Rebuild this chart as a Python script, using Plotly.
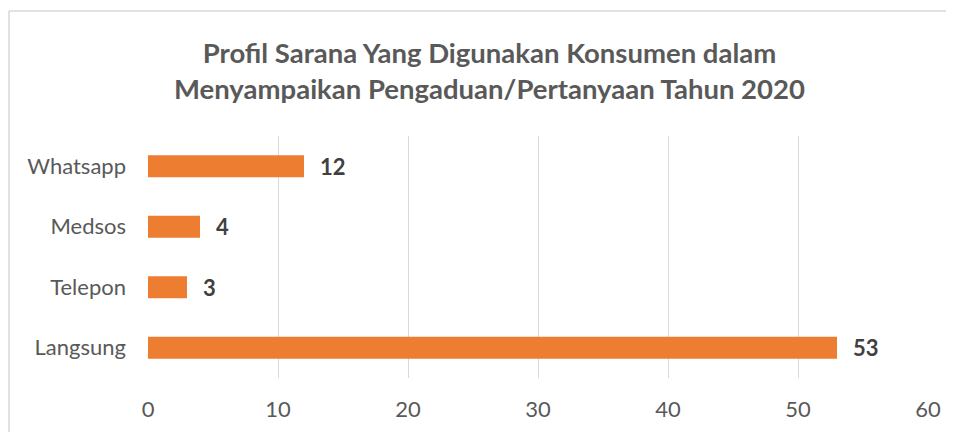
import plotly.graph_objects as go

categories = ["Langsung", "Telepon", "Medsos", "Whatsapp"]
values = [53, 3, 4, 12]
x_ticks = [0, 10, 20, 30, 40, 50, 60]

title_lines = ["Profil Sarana Yang Digunakan Konsumen dalam",
               "Menyampaikan Pengaduan/Pertanyaan Tahun 2020"]

FONT = "Lato"

# the page has an 8px body margin; work in reference pixel coords
OFF = 8
W, H = 954 - OFF, 432 - OFF
ml, mr, mt, mb = 148 - OFF, 954 - 928, 136 - OFF, 432 - 378
pw, ph = W - ml - mr, H - mt - mb

def px2paper_x(px):
    return (px - OFF - ml) / pw

def py2paper_y(py):
    return (H - mb - (py - OFF)) / ph

fig = go.Figure()
fig.add_trace(go.Bar(
    y=categories, x=values, orientation="h",
    marker=dict(color="#ED7D31", line=dict(width=0)),
    hoverinfo="skip",
))

for c, v in zip(categories, values):
    fig.add_annotation(x=v, y=c, text=f"<b>{v}</b>", showarrow=False,
                       xanchor="left", xshift=14,
                       font=dict(family=FONT, size=22, color="#404040"))

fig.add_annotation(xref="paper", yref="paper",
                   x=px2paper_x(489.5), y=py2paper_y(71),
                   text="<b>" + "<br>".join(title_lines) + "</b>",
                   showarrow=False, xanchor="center", yanchor="middle",
                   font=dict(family=FONT, size=27.5, color="#595959"))

# outer chart border (top & left visible)
fig.add_shape(type="line", xref="paper", yref="paper",
              x0=px2paper_x(9), x1=px2paper_x(970),
              y0=py2paper_y(11), y1=py2paper_y(11),
              line=dict(color="#D9D9D9", width=1.5))
fig.add_shape(type="line", xref="paper", yref="paper",
              x0=px2paper_x(9), x1=px2paper_x(9),
              y0=py2paper_y(11), y1=py2paper_y(450),
              line=dict(color="#D9D9D9", width=1.5))

fig.update_layout(
    width=W, height=H,
    margin=dict(l=ml, r=mr, t=mt, b=mb),
    paper_bgcolor="white", plot_bgcolor="white",
    bargap=0.636, showlegend=False,
    font=dict(family=FONT, size=22, color="#595959"),
)
fig.update_xaxes(range=[0, 60], tickvals=x_ticks, showgrid=True,
                 gridcolor="#D9D9D9", gridwidth=1.3, zeroline=False,
                 showline=False, ticks="", ticklabelstandoff=16,
                 automargin=False,
                 tickfont=dict(family=FONT, size=22, color="#595959"),
                 fixedrange=True)
fig.update_yaxes(showgrid=False, zeroline=False, showline=False,
                 ticks="", ticklabelstandoff=21, automargin=False,
                 tickfont=dict(family=FONT, size=22, color="#595959"),
                 fixedrange=True)

fig.write_html("out.html", config={"displayModeBar": False})
